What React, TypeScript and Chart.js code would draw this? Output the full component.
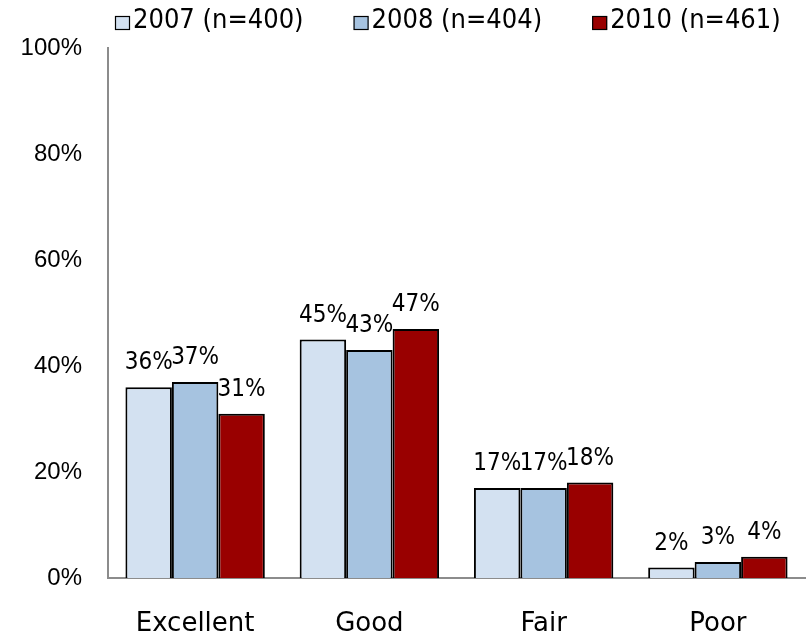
import React, { useEffect, useRef } from 'react';
import { Chart, registerables } from 'chart.js';

Chart.register(...registerables);

const categories = ['Excellent', 'Good', 'Fair', 'Poor'];
const seriesLabels = ['2007 (n=400)', '2008 (n=404)', '2010 (n=461)'];
const values2007 = [36, 45, 17, 2];
const values2008 = [37, 43, 17, 3];
const values2010 = [31, 47, 18, 4];
const seriesColors = ['#D3E1F1', '#A6C3E0', '#990000'];
const yMax = 100;
const yStep = 20;

const FONT = '"DejaVu Sans", sans-serif';
const FONT_COND = '"DejaVu Sans Condensed", "DejaVu Sans", sans-serif';
const FONT_TICK = '"Liberation Sans", Arial, sans-serif';

const dataLabelPlugin = {
  id: 'dataLabels',
  afterDatasetsDraw(chart: any) {
    const ctx = chart.ctx;
    ctx.save();
    ctx.font = `24px ${FONT_COND}`;
    ctx.fillStyle = '#000';
    ctx.textAlign = 'center';
    ctx.textBaseline = 'bottom';
    chart.data.datasets.forEach((ds: any, i: number) => {
      const meta = chart.getDatasetMeta(i);
      meta.data.forEach((el: any, j: number) => {
        ctx.fillText(`${ds.data[j]}%`, el.x, el.y - 12);
      });
    });
    ctx.restore();
  },
};

const legendPlugin = {
  id: 'customLegend',
  afterDraw(chart: any) {
    const ctx = chart.ctx;
    ctx.save();
    ctx.font = `27px ${FONT_COND}`;
    ctx.textBaseline = 'middle';
    ctx.textAlign = 'left';
    const boxW = 15;
    const boxH = 14;
    const gap = 3;
    const spacing = 50;
    const items = chart.data.datasets.map((ds: any) => ({
      label: ds.label,
      color: ds.backgroundColor,
      w: boxW + gap + ctx.measureText(ds.label).width,
    }));
    let x = 115;
    const y = 21;
    items.forEach((it: any) => {
      ctx.fillStyle = it.color;
      ctx.fillRect(x, y - boxH / 2 + 2, boxW, boxH);
      ctx.strokeStyle = '#000';
      ctx.lineWidth = 1.2;
      ctx.strokeRect(x + 0.5, y - boxH / 2 + 2.5, boxW - 1, boxH - 1);
      ctx.fillStyle = '#000';
      ctx.fillText(it.label, x + boxW + gap, y);
      x += it.w + spacing;
    });
    ctx.restore();
  },
};

export default function App() {
  const ref = useRef<HTMLCanvasElement>(null);

  useEffect(() => {
    if (!ref.current) return;
    const datasets = [values2007, values2008, values2010].map((vals, i) => ({
      label: seriesLabels[i],
      data: vals,
      backgroundColor: seriesColors[i],
      borderColor: '#000',
      borderWidth: 2,
      categoryPercentage: 0.8,
      barPercentage: 1.0,
    }));
    const chart = new Chart(ref.current, {
      type: 'bar',
      data: { labels: categories, datasets },
      options: {
        responsive: false,
        animation: false,
        layout: { padding: { top: 48, right: 3, left: 0, bottom: 0 } },
        plugins: { legend: { display: false }, tooltip: { enabled: false } },
        scales: {
          x: {
            grid: { display: false, drawTicks: false },
            border: { display: true, color: '#8c8c8c', width: 2 },
            ticks: { color: '#000', font: { family: FONT, size: 26 }, padding: 31 },
            afterFit(scale: any) {
              scale.height = 56;
            },
          },
          y: {
            min: 0,
            max: yMax,
            grid: { display: false, drawTicks: false },
            border: { display: true, color: '#8c8c8c', width: 2 },
            ticks: {
              stepSize: yStep,
              color: '#000',
              font: { family: FONT_TICK, size: 24 },
              padding: 26,
              callback: (v: any) => `${v}%`,
            },
            afterFit(scale: any) {
              scale.width = 108;
            },
          },
        },
      },
      plugins: [dataLabelPlugin, legendPlugin],
    });
    return () => chart.destroy();
  }, []);

  return (
    <div style={{ position: 'absolute', left: 0, top: 0, width: 808, height: 634, background: '#fff' }}>
      <canvas ref={ref} width={808} height={634} />
    </div>
  );
}
